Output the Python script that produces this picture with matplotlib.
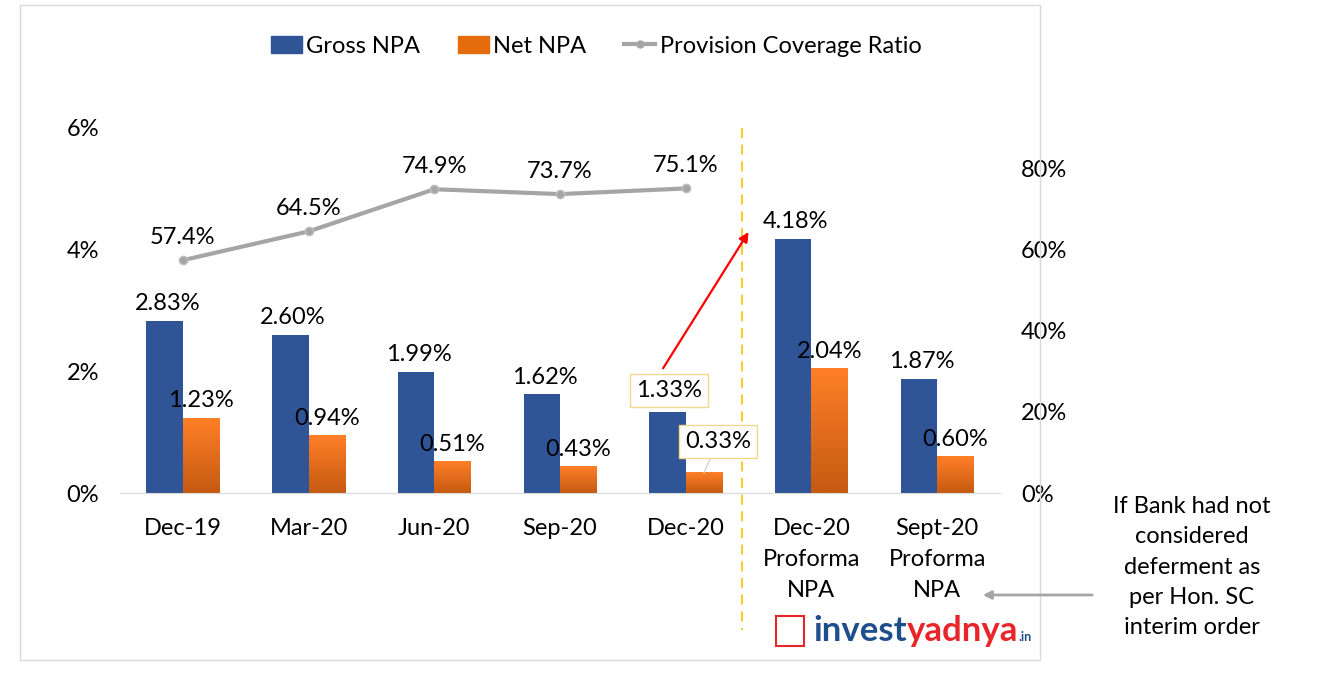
"""NPA trend chart: Gross / Net NPA bars with provision coverage ratio line."""

import matplotlib.pyplot as plt
import numpy as np
from matplotlib.colors import LinearSegmentedColormap
from matplotlib.lines import Line2D
from matplotlib.patches import Patch, Rectangle, FancyArrowPatch
from matplotlib.offsetbox import TextArea, HPacker, AnnotationBbox

plt.rcParams["font.family"] = ["Lato", "DejaVu Sans"]

# Data.
categories = ["Dec-19", "Mar-20", "Jun-20", "Sep-20", "Dec-20",
              "Dec-20\nProforma\nNPA", "Sept-20\nProforma\nNPA"]
gross_npa = [2.83, 2.60, 1.99, 1.62, 1.33, 4.18, 1.87]
net_npa = [1.23, 0.94, 0.51, 0.43, 0.33, 2.04, 0.60]
pcr = [57.4, 64.5, 74.9, 73.7, 75.1]
left_ticks = [0, 2, 4, 6]
right_ticks = [0, 20, 40, 60, 80]
note = "If Bank had not\nconsidered\ndeferment as\nper Hon. SC\ninterim order"

BLUE = "#2F5597"
ORANGE = "#E46C0A"
GRAY = "#A5A5A5"
FS = 17

fig = plt.figure(figsize=(13.19, 6.78), dpi=100)
fig.patches.append(Rectangle((20 / 1319, 18 / 678), 1020 / 1319, 655 / 678,
                             transform=fig.transFigure, fill=False,
                             ec="#D9D9D9", lw=1))

ax = fig.add_axes([120 / 1319, 185 / 678, 880 / 1319, 365 / 678])
ax2 = ax.twinx()

x = np.arange(len(categories))
w = 0.29

ax.bar(x - w / 2, gross_npa, w, color=BLUE, zorder=2)

# Net NPA bars with a vertical orange gradient.
cmap = LinearSegmentedColormap.from_list("org", ["#C55A11", "#FF7F27"])
grad = np.linspace(0, 1, 100).reshape(-1, 1)
for xi, v in zip(x, net_npa):
    ax.imshow(grad, extent=[xi, xi + w, 0, v], origin="lower", aspect="auto",
              cmap=cmap, zorder=2)

ax.set_xlim(-0.5, len(categories) - 0.5)
ax.set_ylim(0, 6)
ax2.set_ylim(0, 90)

# Data labels on bars.
for i, (g, n) in enumerate(zip(gross_npa, net_npa)):
    if i == 4:
        continue
    ax.annotate(f"{g:.2f}%", (x[i] - w / 2, g), xytext=(2, 5),
                textcoords="offset points", ha="center", va="bottom", fontsize=FS)
    ax.annotate(f"{n:.2f}%", (x[i] + w / 2, n), xytext=(0, 5),
                textcoords="offset points", ha="center", va="bottom", fontsize=FS)

box = dict(boxstyle="square,pad=0.25", fc="white", ec="#F2D98A", lw=1)
ax.annotate(f"{gross_npa[4]:.2f}%", (x[4] - w / 2, gross_npa[4]), xytext=(1, 8),
            textcoords="offset points", ha="center", va="bottom", fontsize=FS,
            bbox=box)
ax.annotate(f"{net_npa[4]:.2f}%", (x[4] + w / 2, net_npa[4]), xytext=(10, 15),
            textcoords="offset points", ha="center", va="bottom", fontsize=FS,
            bbox=box, arrowprops=dict(arrowstyle="-", color="#D0D0D0", lw=1,
                                      shrinkA=0, shrinkB=0))

# Provision coverage ratio line.
xp = x[:len(pcr)]
ax2.plot(xp, pcr, color=GRAY, lw=3, marker="o", ms=6, mfc=GRAY, mec="#BFBFBF",
         zorder=3)
for xi, v in zip(xp, pcr):
    ax2.annotate(f"{v:.1f}%", (xi, v), xytext=(0, 9), textcoords="offset points",
                 ha="center", va="bottom", fontsize=FS)

# Divider and red arrow.
ax.plot([4.45, 4.45], [6, -2.25], color="#FFC000", lw=1.2, ls=(0, (6, 4)),
        clip_on=False, zorder=1)
ax.annotate("", xy=(4.50, 4.29), xytext=(3.82, 2.05),
            arrowprops=dict(arrowstyle="-|>", color="#FF0000", lw=1.6,
                            mutation_scale=14, shrinkA=0, shrinkB=0))

# Axes styling.
ax.set_xticks(x)
ax.set_xticklabels(categories, fontsize=FS, linespacing=1.6)
ax.set_yticks(left_ticks)
ax.set_yticklabels([f"{t}%" for t in left_ticks], fontsize=FS)
ax2.set_yticks(right_ticks)
ax2.set_yticklabels([f"{t}%" for t in right_ticks], fontsize=FS)
ax.tick_params(axis="x", length=0, pad=18)
ax.tick_params(axis="y", length=0, pad=15)
ax2.tick_params(axis="y", length=0, pad=15)
for a in (ax, ax2):
    for s in a.spines.values():
        s.set_visible(False)
ax.spines["bottom"].set_visible(True)
ax.spines["bottom"].set_color("#D9D9D9")

# Legend.
handles = [Patch(color=BLUE), Patch(color=ORANGE),
           Line2D([], [], color=GRAY, lw=3, marker="o", ms=5)]
fig.legend(handles, ["Gross NPA", "Net NPA", "Provision Coverage Ratio"],
           loc="center", bbox_to_anchor=(0.452, 0.932), ncol=3, frameon=False,
           fontsize=FS, handlelength=1.3, handletextpad=0.2, columnspacing=1.6)

# Side note with arrow.
fig.text(1192 / 1319, 1 - 567 / 678, note, ha="center", va="center",
         fontsize=FS, linespacing=1.55)
fig.patches.append(FancyArrowPatch(
    (1095 / 1319, 1 - 595 / 678), (980 / 1319, 1 - 595 / 678),
    transform=fig.transFigure, arrowstyle="-|>", color="#A6A6A6", lw=2,
    mutation_scale=12))

# Logo.
fig.patches.append(Rectangle((776 / 1319, 1 - 646 / 678), 28 / 1319, 30 / 678,
                             transform=fig.transFigure, fill=False,
                             ec="#E8262A", lw=1.5))
logo = HPacker(children=[
    TextArea("invest", textprops=dict(color="#1F4E8C", fontsize=25,
                                      fontweight="bold")),
    TextArea("yadnya", textprops=dict(color="#E8262A", fontsize=25,
                                      fontweight="bold")),
    TextArea(".in", textprops=dict(color="#1F4E8C", fontsize=9,
                                   fontweight="bold")),
], sep=0, align="baseline")
fig.add_artist(AnnotationBbox(logo, (813 / 1319, 1 - 631 / 678),
                              xycoords="figure fraction", box_alignment=(0, 0.5),
                              frameon=False, pad=0))

fig.savefig("out.png", dpi=100)
